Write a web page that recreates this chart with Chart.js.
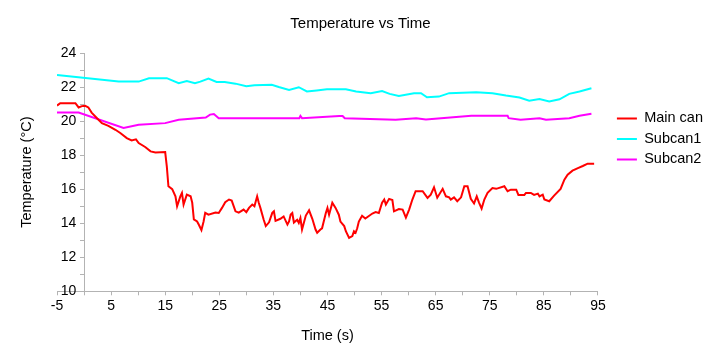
<!DOCTYPE html>
<html>
<head>
<meta charset="utf-8">
<title>Temperature vs Time</title>
<script src="https://cdn.jsdelivr.net/npm/chart.js@4.4.1/dist/chart.umd.min.js"></script>
<style>
  body { margin: 0; background: #fff; }
  #myChart { display: block; }
</style>
</head>
<body>
<canvas id="myChart" width="720" height="360"></canvas>
<script>
"use strict";

// ---------- data ----------
var seriesNames = ["Main can", "Subcan1", "Subcan2"];

var mainTime = [-5, -4.4, -1.6, -1, -0.4, 0.2, 0.8, 1.4, 2.4, 3.3, 4.5, 5.8, 6.7, 7.9, 8.8, 9.6, 10.1, 11.3, 12.3, 13.2,
  15, 15.3, 15.6, 16.3, 16.9, 17.2, 17.8, 18.1, 18.4, 19, 19.7, 20, 20.3, 20.9, 21.2, 21.7, 22.1, 22.4, 23, 24.3,
  24.9, 25.5, 26.1, 26.8, 27.3, 28, 28.6, 29.5, 30, 30.5, 31.1, 31.5, 32, 32.3, 32.6, 33.2, 33.6, 34.2, 34.8, 35.1,
  35.4, 36.3, 36.9, 37.6, 37.9, 38.2, 38.5, 38.8, 39.4, 39.7, 40, 40.3, 41, 41.6, 42.2, 42.8, 43.1, 43.7, 44, 44.7,
  45, 45.3, 45.9, 46.5, 47.1, 47.4, 48.1, 48.4, 49, 49.6, 49.9, 50.2, 50.5, 50.8, 51.4, 52, 53.3, 53.9, 54.5, 55.1,
  55.5, 55.8, 56.4, 57, 57.3, 58.2, 58.9, 59.5, 60.1, 60.7, 61.3, 62.6, 63.5, 64.1, 64.7, 65.3, 66.3, 66.9, 67.5, 67.8,
  68.4, 69, 69.7, 70.3, 70.9, 71.5, 72.1, 72.6, 73, 73.5, 74, 74.6, 75.5, 76.2, 77.7, 78.3, 78.9, 79.9, 80.3, 81.4,
  81.7, 82.6, 83.2, 83.9, 84.2, 84.8, 85.1, 86, 86.9, 88.1, 88.8, 89.4, 90.3, 91.3, 92.2, 93.1, 94.3];
var mainTemp = [20.91, 21.05, 21.05, 20.8, 20.88, 20.9, 20.8, 20.5, 20.17, 19.88, 19.72, 19.49, 19.3, 19.0, 18.86, 18.93, 18.71, 18.48, 18.22, 18.16,
  18.18, 17.34, 16.17, 16.0, 15.58, 15.0, 15.58, 15.78, 15.1, 15.68, 15.58, 15.2, 14.22, 14.1, 13.92, 13.6, 14.1, 14.61, 14.5, 14.63,
  14.6, 14.9, 15.23, 15.39, 15.33, 14.7, 14.62, 14.8, 14.65, 14.9, 15.1, 15.0, 15.58, 15.2, 14.9, 14.22, 13.83, 14.05, 14.61, 14.7,
  14.14, 14.26, 14.4, 13.92, 14.1, 14.51, 14.6, 14.04, 14.2, 14.02, 14.3, 13.63, 14.45, 14.76, 14.26, 13.63, 13.44, 13.63, 13.7, 14.6,
  14.9, 14.5, 15.2, 14.9, 14.5, 14.1, 13.83, 13.53, 13.14, 13.24, 13.53, 13.44, 13.7, 14.1, 14.44, 14.28, 14.57, 14.65, 14.6, 15.2,
  15.39, 15.1, 15.43, 15.36, 14.7, 14.83, 14.8, 14.33, 14.8, 15.39, 15.88, 15.88, 15.49, 15.68, 16.11, 15.5, 16.02, 15.58, 15.52, 15.39,
  15.52, 15.29, 15.52, 16.17, 16.17, 15.43, 15.16, 15.58, 15.23, 14.86, 15.39, 15.78, 16.07, 16.02, 16.17, 15.88, 15.97, 15.97, 15.66, 15.66,
  15.78, 15.78, 15.66, 15.74, 15.58, 15.68, 15.39, 15.29, 15.62, 16.02, 16.56, 16.85, 17.09, 17.24, 17.36, 17.5, 17.5];

var sub1Time = [-5, 6.4, 10.1, 12, 15.3, 17.5, 19, 20.5, 21.5, 23, 24.5, 26, 28, 30, 31.5, 34.7, 36, 37.9, 39.7, 41.2,
  43, 44.9, 48.4, 50.3, 53, 55.1, 56.5, 58.2, 61, 62.3, 63.4, 65.6, 67.5, 72.5, 75.5, 78, 80.5, 82.3, 84.2, 86,
  87.9, 89.7, 91.6, 93.8];
var sub1Temp = [22.71, 22.32, 22.32, 22.52, 22.52, 22.23, 22.35, 22.23, 22.32, 22.5, 22.3, 22.3, 22.2, 22.05, 22.1, 22.13, 22.0, 21.83, 21.99, 21.74,
  21.8, 21.87, 21.87, 21.74, 21.64, 21.77, 21.6, 21.48, 21.64, 21.64, 21.4, 21.44, 21.64, 21.7, 21.64, 21.5, 21.38, 21.2, 21.3, 21.15,
  21.28, 21.6, 21.74, 21.93];

var sub2Time = [-5, -1, 7.3, 10.1, 15, 17.5, 22.5, 23.3, 24, 24.9, 39.8, 40, 40.3, 47.2, 47.8, 48.2, 57.6, 61.4, 63.2, 66,
  71.6, 78.3, 78.5, 80.7, 84.2, 85.4, 89.7, 91.6, 93.8];
var sub2Temp = [20.5, 20.5, 19.59, 19.78, 19.88, 20.08, 20.21, 20.38, 20.41, 20.17, 20.17, 20.3, 20.17, 20.3, 20.3, 20.17, 20.08, 20.17, 20.1, 20.17,
  20.31, 20.31, 20.17, 20.08, 20.17, 20.08, 20.17, 20.31, 20.43];

var xTickLabels = [-5, 5, 15, 25, 35, 45, 55, 65, 75, 85, 95];
var yTickLabels = [10, 12, 14, 16, 18, 20, 22, 24];

// ---------- helpers ----------
function toPoints(times, temps) {
  var points = [];
  for (var i = 0; i < times.length; i++) {
    points.push({ x: times[i], y: temps[i] });
  }
  return points;
}

function makeLine(name, times, temps, color) {
  return {
    label: name,
    data: toPoints(times, temps),
    borderColor: color,
    backgroundColor: color,
    borderWidth: 2,
    pointRadius: 0,
    tension: 0,
    yAxisID: "y"
  };
}

var axisGray = "#b3b3b3";

Chart.defaults.font.family = "'Liberation Sans', Arial, sans-serif";
Chart.defaults.color = "#000";

// ---------- the chart ----------
var ctx = document.getElementById("myChart").getContext("2d");
var chart = new Chart(ctx, {
  type: "line",
  data: {
    datasets: [
      makeLine(seriesNames[0], mainTime, mainTemp, "#ff0000"),
      makeLine(seriesNames[1], sub1Time, sub1Temp, "#00ffff"),
      makeLine(seriesNames[2], sub2Time, sub2Temp, "#ff00ff")
    ]
  },
  options: {
    responsive: false,
    animation: false,
    devicePixelRatio: 1,
    layout: { padding: { left: 8, right: 7, top: 0, bottom: 11 } },
    scales: {
      x: {
        type: "linear",
        position: "bottom",
        min: -5,
        max: 95,
        grid: { drawOnChartArea: false, color: axisGray, tickLength: 4 },
        border: { color: axisGray },
        ticks: {
          stepSize: 5,
          autoSkip: false,
          maxRotation: 0,
          padding: 2,
          font: { size: 14 },
          callback: function (value) {
            var v = Math.round(value);
            return xTickLabels.indexOf(v) >= 0 ? String(v) : "";
          }
        },
        title: {
          display: true,
          text: "Time (s)",
          font: { size: 14.5 },
          padding: { top: 11.5, bottom: 4 }
        }
      },
      // only carries the axis title on the far left
      yTitle: {
        type: "linear",
        position: "left",
        grid: { display: false, drawTicks: false },
        border: { display: false },
        ticks: { display: false },
        title: {
          display: true,
          text: "Temperature (°C)",
          font: { size: 14.5 },
          padding: { top: 10, bottom: 21.6 }
        }
      },
      // the value axis crosses at time 0
      y: {
        type: "linear",
        position: { x: 0 },
        min: 10,
        max: 24,
        grid: { drawOnChartArea: false, color: axisGray, tickLength: 4 },
        border: { color: axisGray },
        ticks: {
          stepSize: 1,
          autoSkip: false,
          font: { size: 14 },
          // labels sit right against the crossing axis, the spaces keep a small gap
          callback: function (value) {
            var v = Math.round(value);
            return yTickLabels.indexOf(v) >= 0 ? v + "  " : "";
          }
        }
      },
      // empty gap between the plot and the legend
      gap: {
        type: "linear",
        position: "right",
        grid: { display: false, drawTicks: false },
        border: { display: false },
        ticks: { display: false },
        afterFit: function (scale) {
          scale.width = 13;
        }
      }
    },
    plugins: {
      title: {
        display: true,
        text: "Temperature vs Time",
        font: { size: 15, weight: "normal" },
        padding: { top: 15, bottom: 20 }
      },
      legend: {
        position: "right",
        fullSize: false,
        align: "start",
        maxWidth: 130,
        title: { display: true, text: "", padding: { top: 37.8, bottom: 0 } },
        labels: {
          usePointStyle: true,
          pointStyle: "line",
          pointStyleWidth: 20,
          padding: 6,
          font: { size: 14.5 }
        }
      },
      tooltip: { enabled: false }
    }
  }
});
</script>
</body>
</html>
